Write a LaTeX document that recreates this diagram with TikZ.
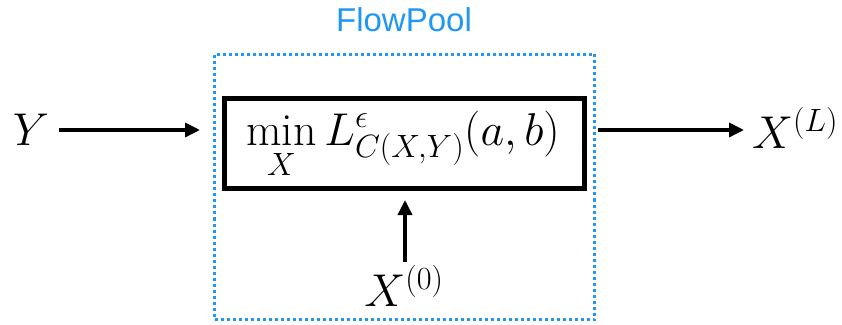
\RequirePackage{fix-cm}
\documentclass[tikz,border=0pt]{standalone}
\usepackage{fontspec}
\newfontfamily\labelfont{Liberation Sans}
\usetikzlibrary{arrows.meta,calc}
\definecolor{poolblue}{RGB}{33,150,243}
\tikzset{
  conn/.style={line width=3.5pt,-{Triangle[length=15pt,width=14pt]}},
  mathlbl/.style={inner sep=0pt,font=\fontsize{46}{50}\selectfont},
  opbox/.style={draw=black,line width=5pt,minimum width=360pt,minimum height=90pt,inner sep=0pt},
  formula/.style={inner sep=0pt,font=\fontsize{46}{50}\selectfont},
  poolbox/.style={draw=poolblue,line width=3pt,dash pattern=on 3pt off 3pt,minimum width=380pt,minimum height=265pt,inner sep=0pt},
}
\begin{document}
\begin{tikzpicture}[x=1pt,y=1pt]
\useasboundingbox (0,0) rectangle (842,324);
\node[poolbox] (pool) at (404.5,137) {};
\node[font=\labelfont\fontsize{33}{36}\selectfont,text=poolblue,inner sep=0pt] (title) at (404,304) {FlowPool};
\node[opbox] (op) at (404.5,180.5) {};
\node[formula,anchor=base] (eq) at (403,178) {$\displaystyle\min\limits_{\rule{0pt}{28pt}X} L^{\epsilon}_{C(X,Y)}(a,b)$};
\node[mathlbl] (y) at (31,194) {$Y$};
\node[mathlbl,anchor=west] (xl) at (752,196) {$X^{(L)}$};
\node[mathlbl] (xz) at (404,38) {$X^{(0)}$};
\coordinate (ytip) at (200,194);
\coordinate (outstart) at (598,194);
\coordinate (outtip) at (744,194);
\coordinate (upstart) at (405,62);
\coordinate (uptip) at (405,124);
\draw[conn] (y.east) ++(10,0) -- (ytip);
\draw[conn] (outstart) -- (outtip);
\draw[conn] (upstart) -- (uptip);
\end{tikzpicture}
\end{document}
